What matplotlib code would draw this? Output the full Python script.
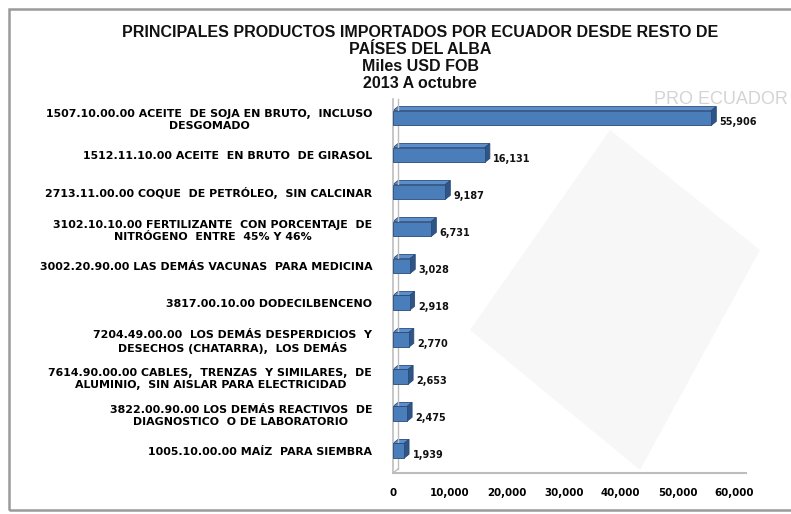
import matplotlib.pyplot as plt
import matplotlib.patches as mpatches
from matplotlib.ticker import FuncFormatter

# data (Miles USD FOB), top to bottom as in the chart
productos = [
    "1507.10.00.00 ACEITE  DE SOJA EN BRUTO,  INCLUSO\nDESGOMADO",
    "1512.11.10.00 ACEITE  EN BRUTO  DE GIRASOL",
    "2713.11.00.00 COQUE  DE PETRÓLEO,  SIN CALCINAR",
    "3102.10.10.00 FERTILIZANTE  CON PORCENTAJE  DE\nNITRÓGENO  ENTRE  45% Y 46%",
    "3002.20.90.00 LAS DEMÁS VACUNAS  PARA MEDICINA",
    "3817.00.10.00 DODECILBENCENO",
    "7204.49.00.00  LOS DEMÁS DESPERDICIOS  Y\nDESECHOS (CHATARRA),  LOS DEMÁS",
    "7614.90.00.00 CABLES,  TRENZAS  Y SIMILARES,  DE\nALUMINIO,  SIN AISLAR PARA ELECTRICIDAD",
    "3822.00.90.00 LOS DEMÁS REACTIVOS  DE\nDIAGNOSTICO  O DE LABORATORIO",
    "1005.10.00.00 MAÍZ  PARA SIEMBRA",
]
valores = [55906, 16131, 9187, 6731, 3028, 2918, 2770, 2653, 2475, 1939]
ticks_x = [0, 10000, 20000, 30000, 40000, 50000, 60000]

titulo = ("PRINCIPALES PRODUCTOS IMPORTADOS POR ECUADOR DESDE RESTO DE\n"
          "PAÍSES DEL ALBA\nMiles USD FOB\n2013 A octubre")

W, H = 791, 514
fig = plt.figure(figsize=(W / 100, H / 100), dpi=100)
fig.patch.set_facecolor("white")

# outer frame (right side runs past the picture)
fig.add_artist(mpatches.Rectangle((9 / W, 4 / H), (W + 20) / W, (H - 13) / H,
                                  transform=fig.transFigure, fill=False,
                                  edgecolor="#9a9a9a", linewidth=1.8))

# faint watermark shapes
fig.add_artist(mpatches.Polygon([(470 / W, 1 - 330 / H), (610 / W, 1 - 130 / H),
                                 (760 / W, 1 - 250 / H), (640 / W, 1 - 470 / H)],
                                closed=True, transform=fig.transFigure,
                                facecolor="#f7f7f7", edgecolor="none", zorder=0))
fig.text(788 / W, 1 - 100 / H, "PRO ECUADOR", ha="right", va="center",
         fontsize=13, color="#d4d4d4", family="Liberation Sans")

fig.text(420 / W, 1 - 58 / H, titulo, ha="center", va="center",
         fontsize=11.5, fontweight="bold", family="Liberation Sans",
         linespacing=1.15, color="#111111")

ax_l, ax_r, ax_t, ax_b = 393, 746, 99.5, 473
ax = fig.add_axes([ax_l / W, 1 - ax_b / H, (ax_r - ax_l) / W, (ax_b - ax_t) / H])
ax.patch.set_alpha(0)

n = len(valores)
pos = list(range(n - 1, -1, -1))
xmax = 62000
ax.set_xlim(0, xmax)
ax.set_ylim(-0.6, 9.5)

bh = 0.4
# 3D offsets: ~5 px right, ~4 px up
dx = 5 * xmax / (ax_r - ax_l)
dy = 4 * 10.1 / (ax_b - ax_t)

front = "#4a7ebb"
top = "#5b8fcc"
side = "#2f5587"
for y, v in zip(pos, valores):
    y0, y1 = y - bh / 2, y + bh / 2
    ax.add_patch(mpatches.Polygon([(0, y1), (dx, y1 + dy), (v + dx, y1 + dy), (v, y1)],
                                  closed=True, facecolor=top, edgecolor="#2a4a78", lw=0.6))
    ax.add_patch(mpatches.Polygon([(v, y0), (v + dx, y0 + dy), (v + dx, y1 + dy), (v, y1)],
                                  closed=True, facecolor=side, edgecolor="#2a4a78", lw=0.6))
ax.barh(pos, valores, height=bh, color=front, edgecolor="#2a4a78", linewidth=0.6, zorder=3)

for y, v in zip(pos, valores):
    ax.text(v + dx + 600, y - 0.12, f"{v:,}", ha="left", va="center",
            fontsize=7, fontweight="bold", color="#111111")

ax.set_yticks(pos)
ax.set_yticklabels(productos, fontsize=7.9, fontweight="bold", multialignment="center",
                   linespacing=1.25)
ax.set_xticks(ticks_x)
ax.xaxis.set_major_formatter(FuncFormatter(lambda x, p: f"{int(x):,}"))
for lab in ax.get_xticklabels():
    lab.set_fontweight("bold")
    lab.set_fontsize(7.4)
ax.tick_params(axis="both", length=0)
ax.tick_params(axis="y", pad=15)
ax.tick_params(axis="x", pad=11)

for s in ["top", "right"]:
    ax.spines[s].set_visible(False)
ax.spines["left"].set_color("#bdbdbd")
ax.spines["bottom"].set_color("#bdbdbd")
ax.spines["left"].set_linewidth(1.2)
ax.spines["bottom"].set_linewidth(1.5)
# back wall line
ax.plot([dx, dx], [-0.6 + dy, 9.5], color="#bdbdbd", lw=1.0, clip_on=False)
ax.plot([0, dx], [-0.6, -0.6 + dy], color="#bdbdbd", lw=1.0, clip_on=False)

fig.savefig("out.png", dpi=100)
